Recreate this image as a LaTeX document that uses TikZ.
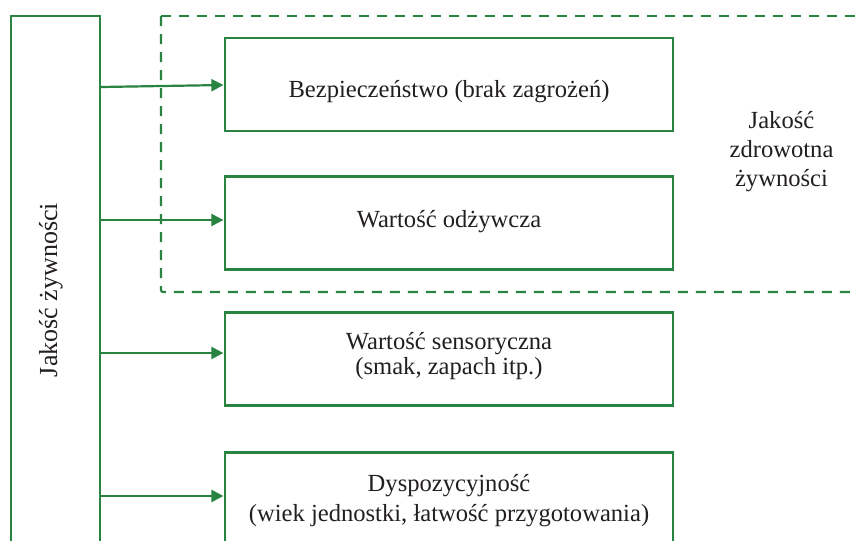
\documentclass[tikz,border=0pt]{standalone}
\usepackage{fontspec}
\setmainfont{Liberation Serif}
\usetikzlibrary{arrows.meta}
\definecolor{grn}{RGB}{40,132,64}
\definecolor{txt}{RGB}{35,31,32}
\newcommand{\twoline}[2]{\begin{tabular}[t]{@{}c@{}}#1\\#2\end{tabular}}
\tikzset{
  box/.style={draw=grn, line width=2.2pt, minimum width=448pt, minimum height=93pt, inner sep=0pt, text=txt},
  rootbox/.style={draw=grn, line width=2.2pt, minimum width=89pt, minimum height=548pt, inner sep=0pt},
  lbl/.style={text=txt, align=center, inner sep=0pt},
  arr/.style={draw=grn, line width=2.2pt, -{Triangle[length=12pt,width=12pt]}, shorten >=0.5pt},
  grp/.style={draw=grn, line width=2.2pt, dash pattern=on 10pt off 8pt},
}
\begin{document}
\begin{tikzpicture}[x=1pt,y=-1pt]
\useasboundingbox (0,0) rectangle (855,541);
\clip (0,0) rectangle (855,541);
\fill[white] (0,0) rectangle (855,541);
% group frame (health quality)
\draw[grp] (161,16) -- (880,16);
\draw[grp, rounded corners=2pt] (161,16) -- (161,292) -- (880,292);
% root
\node[rootbox] (root) at (55.5,290) {};
\node[lbl, rotate=90, font=\fontsize{26}{30}\selectfont] (rootlbl) at (51,290) {Jakość żywności};
% boxes
\node[box, text height=25pt, text depth=0pt, font=\fontsize{24.6}{26}\selectfont] (b1) at (449,84.5) {Bezpieczeństwo (brak zagrożeń)};
\node[box, text height=8pt, text depth=0pt, font=\fontsize{24.6}{26}\selectfont] (b2) at (449,223) {Wartość odżywcza};
\node[box, text height=0pt, text depth=20pt, font=\fontsize{24.6}{25.5}\selectfont] (b3) at (449,359) {\twoline{Wartość sensoryczna}{(smak, zapach itp.)}};
\node[box, text height=0pt, text depth=14.6pt, font=\fontsize{24.6}{30}\selectfont] (b4) at (449,499) {\twoline{Dyspozycyjność}{(wiek jednostki, łatwość przygotowania)}};
\node[lbl, anchor=base, font=\fontsize{24.6}{29}\selectfont] (grplbl) at (781.5,128) {\begin{tabular}[t]{@{}c@{}}Jakość\\zdrowotna\\żywności\end{tabular}};
% arrow levels
\coordinate (a1s) at (0,87);
\coordinate (a1e) at (0,85);
\coordinate (a2) at (0,220);
\coordinate (a3) at (0,353);
\coordinate (a4) at (0,496);
\draw[arr] (root.east |- a1s) -- (b1.west |- a1e);
\draw[arr] (root.east |- a2) -- (b2.west |- a2);
\draw[arr] (root.east |- a3) -- (b3.west |- a3);
\draw[arr] (root.east |- a4) -- (b4.west |- a4);
\end{tikzpicture}
\end{document}
